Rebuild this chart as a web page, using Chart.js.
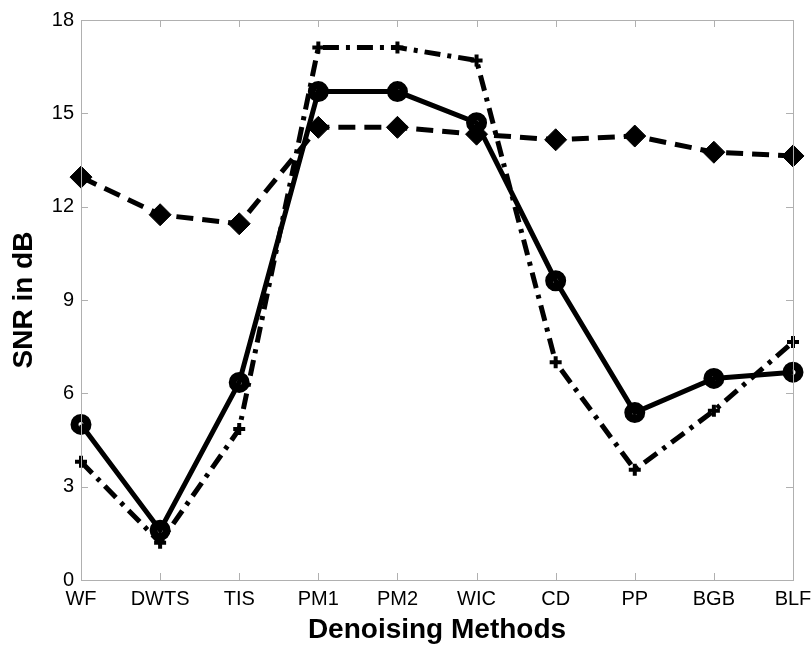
<!DOCTYPE html>
<html><head><meta charset="utf-8">
<script src="https://cdn.jsdelivr.net/npm/chart.js@4/dist/chart.umd.min.js"></script>
<style>html,body{margin:0;padding:0;background:#fff}#wrap{width:812px;height:647px}</style>
</head><body><div id="wrap"><canvas id="c" width="812" height="647"></canvas></div>
<script>
const categories = ["WF","DWTS","TIS","PM1","PM2","WIC","CD","PP","BGB","BLF"];
const diamondSeries = [12.95,11.74,11.45,14.55,14.55,14.33,14.15,14.27,13.75,13.63];
const circleSeries  = [5.0,1.6,6.35,15.7,15.7,14.7,9.62,5.38,6.48,6.68];
const plusSeries    = [3.8,1.2,4.85,17.12,17.12,16.7,7.0,3.54,5.44,7.65];
const yTicks = [0,3,6,9,12,15,18];

const inwardTicks = {
  id:'inwardTicks',
  afterDraw(chart){
    const {ctx, chartArea:a, scales:{x,y}} = chart;
    ctx.save();
    ctx.strokeStyle = '#b0b0b0'; ctx.lineWidth = 1;
    ctx.strokeRect(a.left+0.5, a.top+0.5, a.right-a.left, a.bottom-a.top);
    ctx.beginPath();
    const L = 7;
    categories.forEach((c,i)=>{
      const px = Math.round(x.getPixelForValue(i))+0.5;
      ctx.moveTo(px,a.bottom); ctx.lineTo(px,a.bottom-L);
      ctx.moveTo(px,a.top); ctx.lineTo(px,a.top+L);
    });
    yTicks.forEach(v=>{
      const py = Math.round(y.getPixelForValue(v))+0.5;
      ctx.moveTo(a.left,py); ctx.lineTo(a.left+L,py);
      ctx.moveTo(a.right,py); ctx.lineTo(a.right-L,py);
    });
    ctx.stroke();
    ctx.restore();
  }
};

new Chart(document.getElementById('c'), {
  type:'line',
  data:{
    labels: categories,
    datasets:[
      {data: plusSeries, borderColor:'#000', borderWidth:5, borderDash:[16,7,4,7],
       pointStyle:'cross', pointRadius:6, pointBorderWidth:4, pointBorderColor:'#000', pointBackgroundColor:'#000', tension:0},
      {data: diamondSeries, borderColor:'#000', borderWidth:5, borderDash:[17,9],
       pointStyle:'rectRot', pointRadius:11, pointBorderWidth:1, pointBorderColor:'#000', pointBackgroundColor:'#000', tension:0},
      {data: circleSeries, borderColor:'#000', borderWidth:5,
       pointStyle:'circle', pointRadius:6.5, pointBorderWidth:8, pointBorderColor:'#000', pointBackgroundColor:'rgba(0,0,0,0)', tension:0}
    ]
  },
  options:{
    responsive:false, animation:false,
    layout:{padding:{top:20,right:19,left:0,bottom:0}},
    plugins:{legend:{display:false}, tooltip:{enabled:false}},
    scales:{
      x:{
        offset:false,
        grid:{display:false, drawTicks:false},
        border:{display:false},
        ticks:{color:'#000', font:{family:'Liberation Sans', size:20}, padding:7, autoSkip:false, maxRotation:0},
        title:{display:true, text:'Denoising Methods', color:'#000', font:{family:'Liberation Sans', size:28, weight:'bold'}, padding:{top:0,bottom:0}},
        afterFit(s){ s.height = 67; s.paddingLeft = 0; s.paddingRight = 0; }
      },
      y:{
        min:0, max:18,
        afterBuildTicks(s){ s.ticks = yTicks.map(v=>({value:v})); },
        grid:{display:false, drawTicks:false},
        border:{display:false},
        ticks:{color:'#000', font:{family:'Liberation Sans', size:20}, padding:7},
        title:{display:true, text:'SNR in dB', color:'#000', font:{family:'Liberation Sans', size:28, weight:'bold'}, padding:{top:7,bottom:4}},
        afterFit(s){ s.width = 81; s.paddingTop = 0; s.paddingBottom = 0; }
      }
    }
  },
  plugins:[inwardTicks]
});
</script></body></html>
